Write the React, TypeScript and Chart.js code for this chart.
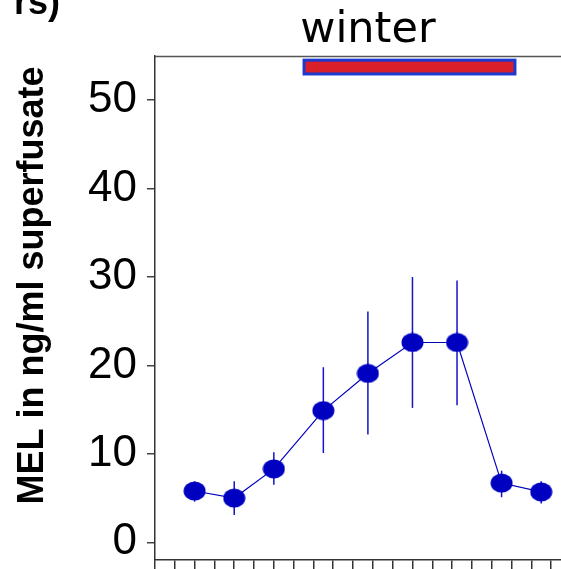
import React, { useEffect, useRef } from "react";
import { Chart, registerables } from "chart.js";

Chart.register(...registerables);

// x positions (hours-like units on the linear x axis)
const timePoints = [2.0, 4.0, 6.0, 8.5, 10.75, 13.0, 15.25, 17.5, 19.5];
// mean MEL values
const melMean = [5.8, 5.0, 8.3, 14.9, 19.1, 22.6, 22.6, 6.7, 5.7];
// error bar ends
const melLow = [4.6, 3.1, 6.5, 10.1, 12.2, 15.2, 15.5, 5.1, 4.4];
const melHigh = [6.9, 6.9, 10.2, 19.8, 26.1, 30.0, 29.6, 8.1, 6.9];
// winter bar extent (x from/to, y from/to)
const winterX = [7.45, 18.25];
const winterY = [52.8, 54.7];
const yTickValues = [0, 10, 20, 30, 40, 50];
const xTickValues = [0, 1, 2, 3, 4, 5, 6, 7, 8, 9, 10, 11, 12, 13, 14, 15, 16, 17, 18, 19, 20];
const titleText = "winter";
const cornerText = "rs)";
const yAxisTitle = "MEL in ng/ml superfusate";

const BLUE = "#0000c0";

function makeEllipse(): HTMLCanvasElement {
  const c = document.createElement("canvas");
  c.width = 23;
  c.height = 20;
  const ctx = c.getContext("2d")!;
  ctx.fillStyle = BLUE;
  ctx.beginPath();
  ctx.ellipse(11.5, 10, 11, 9.5, 0, 0, Math.PI * 2);
  ctx.fill();
  return c;
}

const extras = {
  id: "extras",
  beforeDatasetsDraw(chart: any) {
    const { ctx, chartArea } = chart;
    const xs = chart.scales.x;
    const ys = chart.scales.y;
    ctx.save();
    // top frame line
    ctx.strokeStyle = "#555";
    ctx.lineWidth = 1.5;
    ctx.beginPath();
    ctx.moveTo(chartArea.left, chartArea.top + 0.5);
    ctx.lineTo(chartArea.right, chartArea.top + 0.5);
    ctx.stroke();
    // error bars
    ctx.strokeStyle = "#1414c8";
    ctx.lineWidth = 1.5;
    timePoints.forEach((t, i) => {
      const px = xs.getPixelForValue(t);
      ctx.beginPath();
      ctx.moveTo(px, ys.getPixelForValue(melLow[i]));
      ctx.lineTo(px, ys.getPixelForValue(melHigh[i]));
      ctx.stroke();
    });
    // winter bar
    const x0 = xs.getPixelForValue(winterX[0]);
    const x1 = xs.getPixelForValue(winterX[1]);
    const y0 = ys.getPixelForValue(winterY[1]);
    const y1 = ys.getPixelForValue(winterY[0]);
    ctx.fillStyle = "#1a3ad0";
    ctx.fillRect(x0, y0, x1 - x0, y1 - y0);
    ctx.fillStyle = "#d81f2a";
    ctx.fillRect(x0 + 3, y0 + 3, x1 - x0 - 6, y1 - y0 - 6);
    // texts
    ctx.fillStyle = "#000";
    ctx.font = "43px 'DejaVu Sans'";
    ctx.textAlign = "center";
    ctx.textBaseline = "alphabetic";
    ctx.fillText(titleText, xs.getPixelForValue(10.75), 42);
    ctx.font = "bold 36px 'Liberation Sans'";
    ctx.textAlign = "right";
    ctx.fillText(cornerText, 60, 14);
    // y axis title
    ctx.save();
    ctx.translate(43, 285.5);
    ctx.rotate(-Math.PI / 2);
    ctx.textAlign = "center";
    ctx.textBaseline = "alphabetic";
    ctx.font = "bold 36px 'Liberation Sans'";
    ctx.fillText(yAxisTitle, 0, 0);
    ctx.restore();
    ctx.restore();
  },
};

export default function App() {
  const ref = useRef<HTMLCanvasElement>(null);
  useEffect(() => {
    document.body.style.margin = "0";
    const marker = makeEllipse();
    const chart = new Chart(ref.current!, {
      type: "line",
      data: {
        datasets: [
          {
            data: timePoints.map((t, i) => ({ x: t, y: melMean[i] })),
            borderColor: BLUE,
            borderWidth: 1.2,
            pointStyle: marker as any,
            pointRadius: 10,
            backgroundColor: BLUE,
            tension: 0,
          },
        ],
      },
      options: {
        animation: false,
        responsive: false,
        devicePixelRatio: 1,
        layout: { autoPadding: false, padding: { top: 56, right: 0, left: 0, bottom: 0 } },
        plugins: { legend: { display: false }, tooltip: { enabled: false }, title: { display: false } },
        scales: {
          x: {
            type: "linear",
            min: 0,
            max: 20.5,
            afterBuildTicks: (s: any) => {
              s.ticks = xTickValues.map((v) => ({ value: v }));
            },
            afterFit: (s: any) => {
              s.height = 9;
              s.paddingLeft = 0;
              s.paddingRight = 0;
            },
            ticks: { display: false },
            grid: { drawOnChartArea: false, drawTicks: true, tickLength: 9, color: "#333", lineWidth: 1.5 },
            border: { color: "#333", width: 1.5 },
          },
          y: {
            type: "linear",
            min: -2,
            max: 55,
            afterBuildTicks: (s: any) => {
              s.ticks = yTickValues.map((v) => ({ value: v }));
            },
            afterFit: (s: any) => {
              s.width = 155;
              s.paddingTop = 0;
              s.paddingBottom = 0;
            },
            ticks: {
              color: "#000",
              padding: 10,
              font: { family: "'Liberation Sans', Arial", size: 44 },
            },
            grid: { drawOnChartArea: false, drawTicks: true, tickLength: 8, color: "#444", lineWidth: 1.5 },
            border: { color: "#333", width: 1.5 },
            title: { display: false },
          },
        },
      },
      plugins: [extras],
    });
    return () => chart.destroy();
  }, []);
  return (
    <div style={{ position: "fixed", left: 0, top: 0, width: 561, height: 569, overflow: "hidden", background: "#fff" }}>
      <canvas ref={ref} width={561} height={569} style={{ width: 561, height: 569, display: "block" }} />
    </div>
  );
}
